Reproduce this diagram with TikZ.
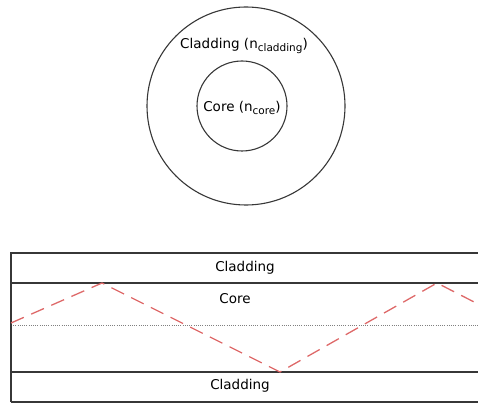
\documentclass[tikz,border=0pt]{standalone}
\usepackage{fontspec}
\setmainfont{DejaVu Sans}
\usepackage{xcolor}
\usepackage{tikz}
\usetikzlibrary{positioning}

\definecolor{linegray}{RGB}{55,55,55}
\definecolor{rayred}{RGB}{222,105,105}

\newcommand{\lowtext}[1]{\raisebox{-0.35ex}{\fontsize{10.5}{12}\selectfont #1}}

\tikzset{
    wall/.style={draw=linegray, line width=1.1pt},
    ray/.style={draw=rayred, line width=1.3pt, dash pattern=on 14pt off 8pt},
    axisline/.style={draw=gray, line width=1pt, dash pattern=on 1pt off 1.2pt},
    lbl/.style={font=\fontsize{13.5}{15}\selectfont, inner sep=0pt},
}

\begin{document}
\begin{tikzpicture}[x=1pt, y=-1pt]
    \useasboundingbox (0,0) rectangle (478,403);
    \node[circle, wall, minimum size=198pt] (clad) at (246,106) {};
    \node[circle, wall, minimum size=90pt] (core) at (242,106) {};
    \node[lbl] (cladtext) at (244,46) {Cladding (n\lowtext{cladding})};
    \node[lbl] (coretext) at (242,108) {Core (n\lowtext{core})};

    \coordinate (tl) at (11,253);
    \coordinate (br) at (478,402);
    \coordinate (ctop) at (11,283);
    \coordinate (cbot) at (11,372);
    \draw[axisline] (11,325) -- (478,325);
    \draw[wall] (11,402) -- (tl) -- (478,253);
    \draw[wall] (11,402) -- (br);
    \draw[wall] (ctop) -- (478,283);
    \draw[wall] (cbot) -- (478,372);

    \coordinate (r0) at (11,323);
    \coordinate (r1) at (102,283);
    \coordinate (r2) at (280,372);
    \coordinate (r3) at (437,283);
    \coordinate (r4) at (478,304);
    \draw[ray] (r0) -- (r1) -- (r2) -- (r3) -- (r4);

    \node[lbl] (topclad) at (245,268) {Cladding};
    \node[lbl] (corelbl) at (235,299) {Core};
    \node[lbl] (botclad) at (240,386) {Cladding};
\end{tikzpicture}
\end{document}
